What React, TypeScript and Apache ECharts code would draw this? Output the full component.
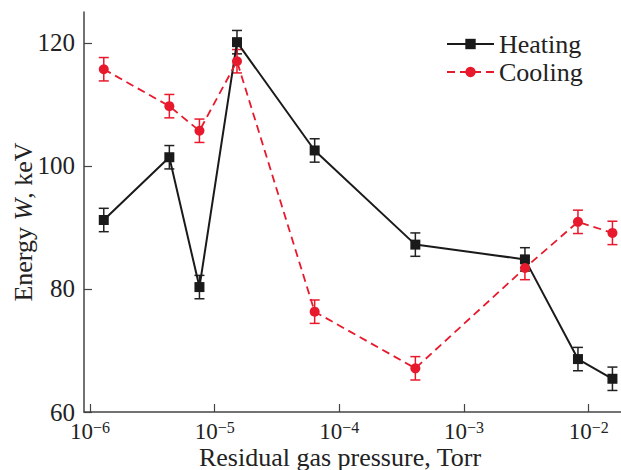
import React, { useEffect, useRef } from "react";
import * as echarts from "echarts";

// Residual gas pressure, Torr
const pressure = [1.29e-6, 4.33e-6, 7.55e-6, 1.51e-5, 6.34e-5, 4.07e-4, 3.08e-3, 8.2e-3, 1.55e-2];
// Energy W, keV
const heating = [91.2, 101.4, 80.3, 120.1, 102.5, 87.2, 84.8, 68.6, 65.4];
const cooling = [115.7, 109.7, 105.7, 117.0, 76.3, 67.1, 83.4, 90.9, 89.1];
const heatingErr = [1.9, 1.9, 1.9, 1.9, 1.9, 1.9, 1.9, 1.9, 1.9];
const coolingErr = [1.9, 1.9, 1.9, 1.9, 1.9, 1.9, 1.9, 1.9, 1.9];
const xTicks = [1e-6, 1e-5, 1e-4, 1e-3, 1e-2];
const yTicks = [60, 80, 100, 120];

const FONT = "Liberation Serif";
const RED = "#e8192c";
const AXIS = "#444";

function errorSeries(name: string, vals: number[], errs: number[], color: string) {
  return {
    name,
    type: "custom",
    z: 3,
    silent: true,
    encode: { x: 0, y: [1, 2] },
    data: pressure.map((p, i) => [p, vals[i] - errs[i], vals[i] + errs[i]]),
    renderItem: (params: any, api: any) => {
      const x = api.value(0);
      const lo = api.coord([x, api.value(1)]);
      const hi = api.coord([x, api.value(2)]);
      const w = 5;
      const style = { stroke: color, lineWidth: 1.5 };
      return {
        type: "group",
        children: [
          { type: "line", shape: { x1: lo[0], y1: lo[1], x2: hi[0], y2: hi[1] }, style },
          { type: "line", shape: { x1: lo[0] - w, y1: lo[1], x2: lo[0] + w, y2: lo[1] }, style },
          { type: "line", shape: { x1: hi[0] - w, y1: hi[1], x2: hi[0] + w, y2: hi[1] }, style },
        ],
      };
    },
  };
}

export default function App() {
  const ref = useRef<HTMLDivElement>(null);
  useEffect(() => {
    const chart = echarts.init(ref.current!, null, { renderer: "svg" });
    chart.setOption({
      animation: false,
      backgroundColor: "#fff",
      textStyle: { fontFamily: FONT },
      grid: { left: 84, right: 0, top: 12, bottom: 58, containLabel: false },
      legend: {
        data: ["Heating", "Cooling"],
        orient: "vertical",
        left: 446,
        top: 31,
        padding: 0,
        itemWidth: 47,
        itemHeight: 13,
        itemGap: 2,
        textStyle: { fontFamily: FONT, fontSize: 26, color: "#222", lineHeight: 26 },
      },
      xAxis: {
        type: "log",
        logBase: 10,
        min: Math.pow(10, -6.048),
        max: Math.pow(10, -1.741),
        axisLine: { lineStyle: { color: AXIS, width: 1.5 } },
        axisTick: { inside: true, length: 8, customValues: xTicks, lineStyle: { color: AXIS, width: 1.2 } },
        minorTick: { show: false },
        splitLine: { show: false },
        axisLabel: {
          customValues: xTicks,
          margin: 7,
          formatter: (v: number) => `{b|10}{s|\u2212${Math.abs(Math.round(Math.log10(v)))}}`,
          rich: {
            b: { fontFamily: FONT, fontSize: 23, lineHeight: 24, color: "#222" },
            s: { fontFamily: FONT, fontSize: 16, lineHeight: 15, color: "#222", verticalAlign: "top" },
          },
        },
      },
      yAxis: {
        type: "value",
        min: 60,
        max: 125,
        axisLine: { show: true, lineStyle: { color: AXIS, width: 1.5 } },
        axisTick: { show: true, inside: true, length: 8, customValues: yTicks, lineStyle: { color: AXIS, width: 1.2 } },
        splitLine: { show: false },
        axisLabel: {
          customValues: yTicks,
          margin: 9,
          fontFamily: FONT,
          fontSize: 25,
          color: "#222",
        },
      },
      graphic: [
        {
          type: "text",
          x: 340,
          y: 457,
          style: {
            text: "Residual gas pressure, Torr",
            fontFamily: FONT,
            fontSize: 26,
            fill: "#222",
            align: "center",
            verticalAlign: "middle",
          },
        },
        {
          type: "text",
          x: 23,
          y: 222,
          rotation: Math.PI / 2,
          style: {
            text: "{a|Energy }{w|W}{a|, keV}",
            align: "center",
            verticalAlign: "middle",
            rich: {
              a: { fontFamily: FONT, fontSize: 26, fill: "#222" },
              w: { fontFamily: FONT, fontSize: 26, fontStyle: "italic", fill: "#222" },
            },
          },
        },
      ],
      series: [
        errorSeries("HeatingErr", heating, heatingErr, "#222"),
        {
          name: "Heating",
          type: "line",
          z: 4,
          data: pressure.map((p, i) => [p, heating[i]]),
          symbol: "rect",
          symbolSize: 10,
          itemStyle: { color: "#1a1a1a" },
          lineStyle: { color: "#1a1a1a", width: 2 },
        },
        errorSeries("CoolingErr", cooling, coolingErr, RED),
        {
          name: "Cooling",
          type: "line",
          z: 5,
          data: pressure.map((p, i) => [p, cooling[i]]),
          symbol: "circle",
          symbolSize: 10,
          itemStyle: { color: RED },
          lineStyle: { color: RED, width: 1.8, type: [8, 5] },
        },
      ],
    });
    return () => chart.dispose();
  }, []);
  return (
    <div
      ref={ref}
      style={{ position: "fixed", left: 0, top: 0, width: 621, height: 470, background: "#fff" }}
    />
  );
}
